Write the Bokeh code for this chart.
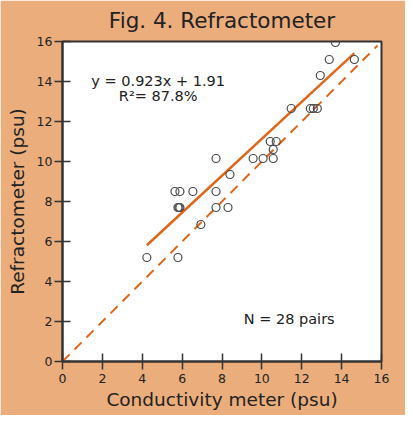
from bokeh.plotting import figure
from bokeh.models import Range1d, Label, FixedTicker, ColumnDataSource
from bokeh.embed import file_html
from bokeh.resources import INLINE

# Data
conductivity = [13.69, 13.38, 14.64, 12.93, 11.47, 12.43, 12.58, 12.78,
                10.42, 10.72, 10.57, 9.56, 10.06, 10.57, 7.70, 8.40,
                5.64, 5.89, 6.54, 7.70, 5.79, 5.89, 5.84, 7.70, 8.30,
                6.94, 4.23, 5.79]
refractometer = [15.95, 15.10, 15.10, 14.30, 12.65, 12.65, 12.65, 12.65,
                 11.00, 11.00, 10.60, 10.15, 10.15, 10.15, 10.15, 9.35,
                 8.50, 8.50, 8.50, 8.50, 7.70, 7.70, 7.70, 7.70, 7.70,
                 6.85, 5.20, 5.20]
slope = 0.923
intercept = 1.91
ticks = [0, 2, 4, 6, 8, 10, 12, 14, 16]
one_to_one = [0, 15.8]
title_text = "Fig. 4. Refractometer"

PANEL = "#ebad7c"
ORANGE = "#e0661a"
DARK = "#333333"
FONT = "DejaVu Sans"

p = figure(width=405, height=415, output_backend="svg", toolbar_location=None,
           x_range=Range1d(0, 16), y_range=Range1d(0, 16),
           frame_width=319, frame_height=320,
           min_border_left=62, min_border_right=24,
           min_border_top=41, min_border_bottom=54,
           title=title_text)

p.background_fill_color = "white"
p.border_fill_color = PANEL
p.outline_line_color = DARK
p.outline_line_width = 2
p.grid.visible = False

p.title.align = "center"
p.title.vertical_align = "top"
p.title.standoff = 13
p.title.text_font = FONT
p.title.text_font_size = "21.5px"
p.title.text_font_style = "normal"
p.title.text_color = "#222222"

for ax in (p.xaxis[0], p.yaxis[0]):
    ax.ticker = FixedTicker(ticks=ticks)
    ax.minor_tick_line_color = None
    ax.major_tick_in = 8
    ax.major_tick_out = 8
    ax.major_tick_line_color = DARK
    ax.major_tick_line_width = 1.5
    ax.axis_line_color = DARK
    ax.axis_line_width = 2
    ax.major_label_text_font = FONT
    ax.major_label_text_font_size = "12.5px"
    ax.major_label_text_color = "#222222"
    ax.axis_label_text_font = FONT
    ax.axis_label_text_font_size = "18.5px"
    ax.axis_label_text_font_style = "normal"
    ax.axis_label_text_color = "#222222"

p.xaxis.axis_label = "Conductivity meter (psu)"
p.yaxis.axis_label = "Refractometer (psu)"
p.xaxis.major_label_standoff = 4
p.yaxis.major_label_standoff = 2
p.xaxis.axis_label_standoff = 3
p.yaxis.axis_label_standoff = 6

# 1:1 dashed line
p.line(one_to_one, one_to_one, line_color=ORANGE, line_width=2, line_dash="10 7")

# regression line over the data span
x0, x1 = min(conductivity), max(conductivity)
p.line([x0, x1], [slope * x0 + intercept, slope * x1 + intercept],
       line_color=ORANGE, line_width=2.5)

src = ColumnDataSource(dict(x=conductivity, y=refractometer))
p.scatter("x", "y", source=src, size=8, fill_color=None,
          line_color="#4a4a4a", line_width=1.2)

p.add_layout(Label(x=4.8, y=14.05, text=f"y = {slope}x + {intercept}",
                   text_align="center", text_baseline="middle",
                   text_font=FONT, text_font_size="14.5px", text_color="#222222"))
p.add_layout(Label(x=4.8, y=13.3, text="R\u00b2= 87.8%",
                   text_align="center", text_baseline="middle",
                   text_font=FONT, text_font_size="14.5px", text_color="#222222"))
p.add_layout(Label(x=11.37, y=2.15, text="N = 28 pairs",
                   text_align="center", text_baseline="middle",
                   text_font=FONT, text_font_size="14.5px", text_color="#222222"))

open("out.html", "w").write(file_html(p, INLINE))
